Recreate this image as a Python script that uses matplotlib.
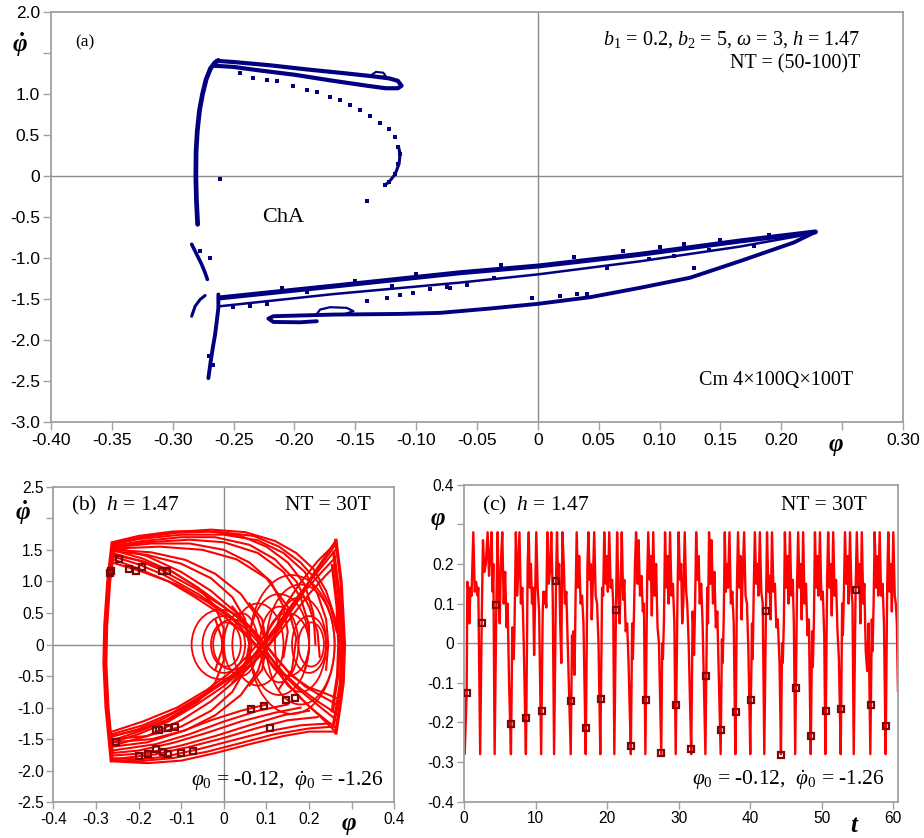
import matplotlib
matplotlib.use('Agg')
import matplotlib.pyplot as plt
from matplotlib.patches import Ellipse

plt.rcParams['font.family'] = 'Liberation Sans'
plt.rcParams['mathtext.fontset'] = 'custom'
plt.rcParams['mathtext.rm'] = 'Liberation Serif'
plt.rcParams['mathtext.it'] = 'Liberation Serif:italic'
plt.rcParams['mathtext.bf'] = 'Liberation Serif:bold:italic'

# ---------------- panel (a): Poincare section, traced strands ----------------
a_left_phi = [-0.2795, -0.2805, -0.281, -0.2808, -0.2798, -0.278, -0.2755, -0.2725, -0.269, -0.2655, -0.2625]
a_left_dphi = [-0.59, -0.3, 0.0, 0.3, 0.55, 0.8, 1.0, 1.18, 1.31, 1.38, 1.41]

a_top_phi = [-0.2638, -0.25, -0.22, -0.19, -0.16, -0.135, -0.122, -0.115, -0.112, -0.115, -0.125,
             -0.14, -0.17, -0.2, -0.23, -0.25, -0.266]
a_top_dphi = [1.404, 1.39, 1.35, 1.30, 1.255, 1.215, 1.19, 1.16, 1.10, 1.07, 1.07,
              1.10, 1.165, 1.235, 1.29, 1.33, 1.345]

a_hook_phi = [-0.138, -0.133, -0.127, -0.125, -0.13]
a_hook_dphi = [1.22, 1.27, 1.26, 1.22, 1.20]

a_dots_phi = [-0.2447, -0.2337, -0.2227, -0.2145, -0.2008, -0.1899, -0.1816, -0.1707, -0.1625,
              -0.1542, -0.146, -0.1378, -0.1296, -0.1227, -0.1173, -0.1145, -0.1132, -0.1145,
              -0.1173, -0.1227, -0.1255, -0.1405, -0.261]
a_dots_dphi = [1.257, 1.2, 1.167, 1.155, 1.094, 1.053, 1.02, 0.963, 0.922,
               0.861, 0.8, 0.727, 0.645, 0.576, 0.473, 0.351, 0.269, 0.147,
               0.024, -0.078, -0.106, -0.31, -0.04]

a_seg_phi = [-0.1145, -0.1132, -0.114, -0.1173, -0.1227, -0.1255]
a_seg_dphi = [0.36, 0.27, 0.15, 0.02, -0.08, -0.106]

a_p1_phi = [-0.2844, -0.2803, -0.2762, -0.2734, -0.2715]
a_p1_dphi = [-0.833, -0.955, -1.078, -1.18, -1.261]
a_p2_phi = [-0.2844, -0.2816, -0.2775, -0.2734]
a_p2_dphi = [-1.71, -1.588, -1.506, -1.457]
a_p3_phi = [-0.2625, -0.2625, -0.2638, -0.2652, -0.2671, -0.2688, -0.2707]
a_p3_dphi = [-1.445, -1.608, -1.771, -1.935, -2.098, -2.261, -2.465]

a_up_phi = [-0.261, -0.168, -0.064, 0.0, 0.0841, 0.1663, 0.228]
a_up_dphi = [-1.486, -1.343, -1.18, -1.098, -0.955, -0.792, -0.682]
a_mid_phi = [-0.261, -0.168, -0.064, 0.0, 0.0841, 0.1663, 0.215, 0.228]
a_mid_dphi = [-1.588, -1.44, -1.30, -1.2, -1.04, -0.86, -0.73, -0.682]
a_low_phi = [0.228, 0.2101, 0.1663, 0.1252, 0.0841, 0.043, 0.0, -0.0392, -0.0803, -0.1132, -0.168,
             -0.2173, -0.2214, -0.2173, -0.1953, -0.1816]
a_low_dphi = [-0.682, -0.812, -1.037, -1.24, -1.363, -1.478, -1.559, -1.616, -1.669, -1.682, -1.69,
              -1.71, -1.739, -1.78, -1.784, -1.771]
a_bump_phi = [-0.182, -0.1789, -0.1707, -0.157, -0.1515, -0.16]
a_bump_dphi = [-1.69, -1.629, -1.60, -1.608, -1.649, -1.69]

a_scat_phi = [-0.072, -0.0584, -0.0049, 0.0184, 0.032, 0.0403, 0.128, 0.091, 0.1115, 0.1773,
              -0.1405, -0.124, -0.1132, -0.1022, -0.0885, -0.0748, -0.2501, -0.2364, -0.2227,
              -0.0358, 0.0564, 0.1403, -0.2693, -0.2775, -0.2665, -0.2705,
              -0.21, -0.15, -0.1, -0.03, 0.03, 0.07, 0.12, 0.15, 0.19, -0.19, -0.12, 0.1]
a_scat_dphi = [-1.363, -1.33, -1.486, -1.465, -1.445, -1.437, -1.118, -1.016, -0.976, -0.853,
               -1.527, -1.486, -1.453, -1.424, -1.384, -1.355, -1.6, -1.588, -1.567,
               -1.24, -1.12, -0.9, -1.0, -0.92, -2.3, -2.2,
               -1.36, -1.28, -1.2, -1.085, -0.99, -0.92, -0.83, -0.78, -0.72, -1.42, -1.34, -0.87]

# ---------------- panel (b): phase trajectory, traced curves ----------------
b_walls = [
    ([-0.262, -0.272, -0.279, -0.281, -0.276, -0.264], [1.60, 1.0, 0.3, -0.3, -1.0, -1.84]),
    ([-0.258, -0.268, -0.275, -0.277, -0.272, -0.262], [1.50, 1.0, 0.3, -0.3, -1.0, -1.70]),
    ([-0.26, -0.27, -0.277, -0.279, -0.274, -0.263], [1.56, 1.0, 0.3, -0.3, -1.0, -1.78]),
    ([0.263, 0.275, 0.283, 0.28, 0.272, 0.263], [1.65, 1.0, 0.0, -0.6, -1.0, -1.40]),
    ([0.258, 0.27, 0.277, 0.274, 0.266, 0.258], [1.45, 0.8, 0.0, -0.6, -0.95, -1.25]),
    ([0.255, 0.266, 0.27, 0.267, 0.26, 0.255], [1.25, 0.6, 0.0, -0.5, -0.8, -1.05]),
]
b_top_arcs = [
    ([-0.262, -0.2, -0.12, -0.03, 0.05, 0.12, 0.17, 0.21, 0.24, 0.262, 0.272],
     [1.60, 1.70, 1.78, 1.82, 1.78, 1.64, 1.45, 1.2, 0.85, 0.4, 0.0]),
    ([-0.262, -0.2, -0.1, 0.0, 0.08, 0.14, 0.19, 0.22, 0.24, 0.245, 0.24],
     [1.58, 1.67, 1.74, 1.74, 1.65, 1.45, 1.15, 0.8, 0.4, 0.0, -0.4]),
    ([-0.26, -0.18, -0.08, 0.0, 0.08, 0.14, 0.18, 0.2, 0.2, 0.19],
     [1.55, 1.62, 1.66, 1.62, 1.45, 1.15, 0.75, 0.3, -0.1, -0.4]),
    ([-0.26, -0.15, -0.05, 0.03, 0.1, 0.15, 0.17, 0.16, 0.13],
     [1.52, 1.55, 1.5, 1.35, 1.05, 0.6, 0.1, -0.4, -0.7]),
    ([-0.262, -0.19, -0.1, -0.02, 0.06, 0.12, 0.17, 0.2, 0.22, 0.225],
     [1.56, 1.64, 1.70, 1.70, 1.58, 1.35, 1.0, 0.6, 0.2, -0.2]),
    ([-0.262, -0.2, -0.12, -0.04, 0.04, 0.1, 0.15, 0.19, 0.21, 0.215],
     [1.62, 1.72, 1.79, 1.80, 1.72, 1.55, 1.3, 0.95, 0.5, 0.0]),
    ([-0.26, -0.17, -0.08, 0.0, 0.06, 0.11, 0.14, 0.15, 0.14],
     [1.54, 1.6, 1.6, 1.5, 1.3, 1.0, 0.6, 0.2, -0.2]),
    ([-0.262, -0.2, -0.11, -0.02, 0.07, 0.13, 0.18, 0.22, 0.25, 0.265],
     [1.59, 1.69, 1.77, 1.79, 1.72, 1.55, 1.3, 1.0, 0.6, 0.2]),
]
b_eye_arcs = [
    ([-0.26, -0.18, -0.1, -0.03, 0.02, 0.05, 0.06, 0.05, 0.02],
     [1.48, 1.42, 1.28, 1.05, 0.75, 0.4, 0.0, -0.35, -0.6]),
    ([-0.26, -0.17, -0.09, -0.02, 0.04, 0.08, 0.1, 0.09, 0.06],
     [1.5, 1.46, 1.34, 1.12, 0.8, 0.42, 0.0, -0.4, -0.65]),
    ([-0.262, -0.19, -0.12, -0.06, -0.02, 0.0, -0.005, -0.02],
     [1.42, 1.32, 1.15, 0.9, 0.6, 0.25, -0.1, -0.4]),
    ([-0.262, -0.18, -0.1, -0.03, 0.02, 0.05, 0.06, 0.05, 0.02],
     [-1.5, -1.45, -1.3, -1.05, -0.75, -0.4, 0.0, 0.35, 0.6]),
    ([-0.262, -0.17, -0.09, -0.02, 0.04, 0.08, 0.1, 0.09, 0.06],
     [-1.55, -1.5, -1.36, -1.12, -0.8, -0.42, 0.0, 0.4, 0.65]),
    ([-0.262, -0.19, -0.12, -0.06, -0.02, 0.0, -0.005, -0.02],
     [-1.45, -1.34, -1.16, -0.9, -0.6, -0.25, 0.1, 0.4]),
]
b_down_band = [
    ([-0.262, -0.2, -0.146, -0.068, 0.003, 0.05, 0.09, 0.128, 0.17, 0.206, 0.263],
     [1.45, 1.33, 1.18, 0.89, 0.58, 0.35, 0.0, -0.4, -0.68, -0.88, -1.19]),
    ([-0.262, -0.2, -0.14, -0.06, 0.01, 0.06, 0.1, 0.14, 0.18, 0.22, 0.265],
     [1.40, 1.27, 1.1, 0.8, 0.48, 0.2, -0.12, -0.45, -0.7, -0.9, -1.1]),
    ([-0.262, -0.19, -0.12, -0.05, 0.02, 0.07, 0.11, 0.15, 0.19, 0.23, 0.265],
     [1.5, 1.36, 1.15, 0.85, 0.5, 0.22, -0.1, -0.42, -0.66, -0.82, -0.95]),
    ([-0.26, -0.2, -0.13, -0.07, 0.0, 0.04, 0.08, 0.12, 0.16, 0.2, 0.262],
     [1.35, 1.2, 1.0, 0.76, 0.45, 0.22, -0.05, -0.38, -0.7, -0.98, -1.32]),
    ([-0.26, -0.18, -0.1, -0.03, 0.03, 0.08, 0.12, 0.16, 0.2, 0.24, 0.265],
     [1.55, 1.4, 1.15, 0.85, 0.5, 0.15, -0.2, -0.5, -0.68, -0.78, -0.85]),
    ([-0.262, -0.19, -0.11, -0.04, 0.02, 0.06, 0.1, 0.14, 0.18, 0.22, 0.262],
     [1.30, 1.15, 0.95, 0.68, 0.4, 0.12, -0.2, -0.55, -0.85, -1.1, -1.38]),
]
b_up_band = [
    ([-0.262, -0.2, -0.146, -0.068, 0.003, 0.05, 0.1, 0.144, 0.18, 0.206, 0.263],
     [-1.46, -1.34, -1.19, -0.9, -0.59, -0.4, -0.05, 0.39, 0.75, 1.08, 1.65]),
    ([-0.262, -0.2, -0.14, -0.06, 0.01, 0.06, 0.1, 0.14, 0.18, 0.22, 0.262],
     [-1.52, -1.38, -1.22, -0.88, -0.55, -0.25, 0.08, 0.45, 0.82, 1.15, 1.5]),
    ([-0.262, -0.19, -0.12, -0.05, 0.02, 0.07, 0.11, 0.15, 0.19, 0.23, 0.262],
     [-1.42, -1.28, -1.08, -0.8, -0.48, -0.18, 0.15, 0.5, 0.85, 1.15, 1.38]),
    ([-0.26, -0.2, -0.13, -0.07, 0.0, 0.04, 0.08, 0.12, 0.16, 0.2, 0.262],
     [-1.55, -1.42, -1.22, -0.98, -0.66, -0.42, -0.14, 0.2, 0.6, 1.0, 1.58]),
    ([-0.26, -0.18, -0.1, -0.03, 0.03, 0.08, 0.12, 0.16, 0.2, 0.24, 0.262],
     [-1.6, -1.45, -1.2, -0.9, -0.56, -0.22, 0.1, 0.45, 0.8, 1.1, 1.25]),
    ([-0.262, -0.19, -0.11, -0.04, 0.02, 0.06, 0.1, 0.14, 0.18, 0.22, 0.262],
     [-1.38, -1.22, -1.0, -0.72, -0.42, -0.15, 0.18, 0.58, 0.98, 1.32, 1.6]),
]
b_bottom_arcs = [
    ([0.264, 0.2, 0.14, 0.06, -0.02, -0.1, -0.18, -0.264],
     [-1.38, -1.38, -1.45, -1.58, -1.72, -1.84, -1.88, -1.85]),
    ([0.25, 0.18, 0.1, 0.02, -0.06, -0.14, -0.2, -0.264],
     [-1.25, -1.28, -1.38, -1.52, -1.66, -1.78, -1.82, -1.8]),
    ([0.2, 0.14, 0.06, -0.02, -0.1, -0.18, -0.262],
     [-1.05, -1.12, -1.28, -1.45, -1.6, -1.72, -1.76]),
    ([0.15, 0.08, 0.0, -0.08, -0.16, -0.262],
     [-0.95, -1.05, -1.22, -1.42, -1.58, -1.68]),
    ([0.22, 0.15, 0.08, 0.0, -0.08, -0.16, -0.262],
     [-1.15, -1.2, -1.32, -1.48, -1.62, -1.74, -1.82]),
    ([0.26, 0.2, 0.12, 0.04, -0.04, -0.12, -0.2, -0.264],
     [-1.3, -1.33, -1.42, -1.56, -1.7, -1.8, -1.85, -1.83]),
    ([0.18, 0.12, 0.04, -0.04, -0.12, -0.2, -0.262],
     [-1.0, -1.08, -1.22, -1.4, -1.56, -1.68, -1.72]),
    ([0.1, 0.04, -0.03, -0.1, -0.18, -0.262],
     [-0.95, -1.05, -1.2, -1.38, -1.55, -1.62]),
]
# small oscillation loops around the centre: centre phi, full width, full height
loop_cx = [-0.008, 0.0, 0.005, 0.04, 0.18, 0.18, 0.2, 0.205, 0.13, 0.13, 0.08, 0.02, 0.16, 0.15]
loop_w = [0.135, 0.1, 0.07, 0.08, 0.16, 0.12, 0.08, 0.06, 0.14, 0.09, 0.12, 0.09, 0.2, 0.1]
loop_h = [1.1, 0.9, 0.7, 1.0, 1.9, 1.5, 0.9, 0.7, 1.6, 1.2, 1.3, 0.8, 2.2, 1.0]

b_pts_phi = [-0.265, -0.268, -0.246, -0.222, -0.206, -0.192, -0.145, -0.133, -0.253, -0.199,
             -0.178, -0.160, -0.160, -0.152, -0.142, -0.131, -0.130, -0.115, -0.101, -0.072,
             0.063, 0.094, 0.108, 0.145, 0.167]
b_pts_dphi = [1.16, 1.14, 1.35, 1.20, 1.17, 1.23, 1.17, 1.17, -1.54, -1.76,
              -1.73, -1.65, -1.36, -1.36, -1.70, -1.73, -1.32, -1.30, -1.72, -1.68,
              -1.02, -0.98, -1.32, -0.88, -0.85]

# ---------------- panel (c): time series vertices ----------------
c_t = [0.0, 0.1, 0.37, 0.47, 0.6, 0.75, 0.9, 1.05, 1.3, 1.5, 1.7, 1.9, 2.0,
       2.26, 2.47, 2.65, 2.85, 3.05, 3.3, 3.5, 3.7, 3.85, 4.0, 4.1,
       4.28, 4.52, 4.7, 4.85, 5.0, 5.15, 5.35, 5.55, 5.75, 5.95, 6.1, 6.3,
       6.56, 6.61, 6.75, 6.85, 6.95, 7.05, 7.25, 7.45, 7.6, 7.75, 7.95, 8.15, 8.35,
       8.65, 8.71, 8.9, 9.05, 9.2, 9.35, 9.5, 9.65, 9.8, 9.95, 10.1, 10.3, 10.5,
       10.78, 10.85, 11.0, 11.1, 11.2, 11.35, 11.5, 11.65, 11.85, 12.0, 12.2, 12.4,
       12.59, 12.86, 13.0, 13.15, 13.3, 13.45, 13.6, 13.75, 13.95, 14.1, 14.3, 14.5,
       14.92, 15.0, 15.1, 15.2, 15.3, 15.45, 15.6, 15.75, 15.95, 16.1, 16.3, 16.5, 16.7,
       17.01, 17.05, 17.25, 17.4, 17.55, 17.7, 17.85, 18.0, 18.2, 18.4, 18.6, 18.8,
       19.05, 19.14, 19.3, 19.45, 19.6, 19.8, 19.95, 20.1, 20.3, 20.5, 20.7, 20.85,
       21.01, 21.24, 21.4, 21.6, 21.75, 21.9, 22.05, 22.25, 22.4, 22.6, 22.8, 23.0,
       23.32, 23.33, 23.5, 23.6, 23.75, 23.9, 24.05, 24.25, 24.4, 24.6, 24.8, 25.0, 25.15,
       25.35, 25.43, 25.6, 25.75, 25.95, 26.1, 26.25, 26.45, 26.65, 26.85, 27.05, 27.25,
       27.57, 27.7, 27.8, 27.95, 28.1, 28.3, 28.45, 28.6, 28.8, 29.0, 29.2, 29.4,
       29.59, 29.67, 29.85, 30.0, 30.2, 30.35, 30.5, 30.65, 30.85, 31.05, 31.2, 31.4,
       31.76, 31.77, 31.95, 32.05, 32.15, 32.3, 32.45, 32.65, 32.8, 32.95, 33.15, 33.35,
       33.74, 33.86, 34.0, 34.1, 34.25, 34.45, 34.6, 34.8, 35.0, 35.2, 35.4,
       35.87, 35.91, 36.05, 36.15, 36.3, 36.45, 36.6, 36.75, 36.9, 37.1, 37.3, 37.5, 37.7,
       37.93, 38.0, 38.15, 38.3, 38.5, 38.65, 38.8, 38.95, 39.15, 39.35, 39.55, 39.75,
       40.01, 40.1, 40.25, 40.35, 40.5, 40.65, 40.85, 41.0, 41.15, 41.35, 41.55, 41.75,
       41.97, 42.2, 42.35, 42.55, 42.7, 42.85, 43.05, 43.25, 43.45, 43.65, 43.85, 44.1,
       44.3, 44.45, 44.55, 44.7, 44.85, 45.05, 45.2, 45.35, 45.55, 45.75, 45.95, 46.1,
       46.29, 46.39, 46.55, 46.7, 46.9, 47.05, 47.2, 47.4, 47.6, 47.8, 48.0, 48.2,
       48.46, 48.49, 48.65, 48.75, 48.9, 49.05, 49.25, 49.4, 49.55, 49.75, 49.95, 50.15, 50.35,
       50.51, 50.58, 50.75, 50.9, 51.1, 51.25, 51.4, 51.6, 51.8, 52.0, 52.2, 52.4,
       52.65, 52.72, 52.85, 52.95, 53.1, 53.25, 53.45, 53.6, 53.75, 53.95, 54.15, 54.3,
       54.47, 54.73, 54.9, 55.1, 55.25, 55.4, 55.6, 55.8, 55.95, 56.15, 56.35, 56.55,
       56.79, 56.87, 57.0, 57.1, 57.25, 57.4, 57.6, 57.75, 57.9, 58.1, 58.3, 58.5, 58.7,
       58.93, 58.97, 59.15, 59.3, 59.5, 59.65, 59.8, 60.0, 60.2, 60.35, 60.5, 60.65]
c_phi = [-0.12, -0.28, -0.126, 0.155, 0.14, 0.05, 0.14, 0.12, 0.28, 0.13, 0.155, 0.12, 0.14,
         -0.28, 0.05, 0.26, 0.18, 0.2, 0.28, 0.17, 0.23, 0.28, 0.13, 0.2,
         -0.28, 0.097, 0.28, 0.12, 0.05, 0.2, 0.28, 0.1, 0.18, 0.04, 0.1, -0.1,
         -0.28, -0.205, 0.04, 0.03, -0.04, 0.03, 0.28, 0.12, 0.2, 0.28, 0.1, 0.14, 0.0,
         -0.28, -0.19, 0.2, 0.28, 0.14, 0.2, 0.1, 0.14, -0.03, 0.12, 0.28, 0.14, 0.08,
         -0.28, -0.171, 0.08, 0.13, 0.1, 0.13, 0.09, 0.28, 0.15, 0.18, 0.28, 0.12,
         -0.28, 0.156, 0.28, 0.15, 0.2, 0.05, -0.05, 0.28, 0.2, 0.1, 0.13, 0.0,
         -0.28, -0.146, 0.02, -0.06, 0.03, -0.08, 0.12, 0.28, 0.14, 0.22, 0.1, 0.12, 0.05,
         -0.28, -0.214, 0.2, 0.28, 0.16, 0.2, 0.06, 0.15, 0.28, 0.12, 0.1, 0.0,
         -0.28, -0.14, 0.14, 0.12, 0.28, 0.15, 0.22, 0.13, 0.28, 0.14, 0.16, 0.1,
         -0.28, 0.083, 0.28, 0.12, 0.05, 0.15, 0.28, 0.11, 0.16, 0.03, 0.05, -0.05,
         -0.28, -0.259, 0.05, -0.04, 0.07, 0.2, 0.28, 0.15, 0.26, 0.12, 0.17, 0.08, 0.1,
         -0.28, -0.144, 0.16, 0.28, 0.16, 0.22, 0.07, 0.28, 0.12, 0.2, 0.04, 0.0,
         -0.28, 0.0, -0.04, 0.06, 0.28, 0.14, 0.22, 0.1, 0.28, 0.12, 0.15, 0.05,
         -0.28, -0.155, 0.14, 0.28, 0.16, 0.2, 0.05, 0.1, 0.28, 0.13, 0.1, 0.0,
         -0.28, -0.267, 0.08, 0.04, -0.03, 0.1, 0.28, 0.16, 0.22, 0.1, 0.15, 0.05,
         -0.28, -0.084, 0.14, 0.05, 0.28, 0.15, 0.26, 0.1, 0.18, 0.04, 0.08,
         -0.28, -0.219, 0.01, -0.05, 0.06, 0.28, 0.13, 0.2, 0.14, 0.28, 0.1, 0.13, 0.05,
         -0.28, -0.174, 0.15, 0.28, 0.14, 0.22, 0.06, 0.17, 0.28, 0.12, 0.1, -0.02,
         -0.28, -0.143, 0.05, -0.04, 0.14, 0.28, 0.15, 0.2, 0.12, 0.28, 0.13, 0.1,
         -0.28, 0.081, 0.28, 0.13, 0.17, 0.06, 0.28, 0.13, 0.15, 0.04, 0.06, -0.05,
         -0.28, 0.0, -0.05, 0.05, 0.28, 0.14, 0.22, 0.1, 0.28, 0.12, 0.16, 0.05,
         -0.28, -0.113, 0.15, 0.28, 0.14, 0.2, 0.06, 0.28, 0.1, 0.15, 0.02, 0.06,
         -0.28, -0.235, 0.03, -0.06, 0.05, 0.28, 0.14, 0.22, 0.12, 0.28, 0.11, 0.13, 0.02,
         -0.28, -0.172, 0.16, 0.28, 0.14, 0.2, 0.07, 0.28, 0.12, 0.16, 0.03, -0.04,
         -0.28, -0.166, 0.1, 0.02, 0.13, 0.28, 0.15, 0.22, 0.1, 0.28, 0.13, 0.1,
         -0.28, 0.134, 0.28, 0.14, 0.2, 0.05, 0.28, 0.1, 0.15, -0.02, -0.07, 0.05,
         -0.28, -0.157, 0.06, -0.02, 0.1, 0.28, 0.14, 0.22, 0.12, 0.28, 0.12, 0.15, 0.05,
         -0.28, -0.21, 0.15, 0.28, 0.13, 0.2, 0.08, 0.28, 0.12, 0.1, 0.05, -0.12]

c_pts_t = [0.37, 2.47, 4.52, 6.61, 8.71, 10.85, 12.86, 15.0, 17.05, 19.14, 21.24, 23.33, 25.43,
           27.57, 29.67, 31.77, 33.86, 35.91, 38.0, 40.1, 42.2, 44.3, 46.39, 48.49, 50.58,
           52.72, 54.73, 56.87, 58.97]
c_pts_phi = [-0.126, 0.050, 0.097, -0.205, -0.190, -0.171, 0.156, -0.146, -0.214, -0.140, 0.083,
             -0.259, -0.144, -0.278, -0.155, -0.267, -0.084, -0.219, -0.174, -0.143, 0.081,
             -0.281, -0.113, -0.235, -0.172, -0.166, 0.134, -0.157, -0.210]

# ---------------- style ----------------
W, H = 924, 838
NAVY = '#000080'
RED = '#ff0000'
MARK = '#7a0a0a'
FRAME = '#a0a0a0'
SERIF = 'Liberation Serif'
PHI_DOT = r'$\mathbf{\dot{\varphi}}$'
PHI = r'$\mathbf{\varphi}$'
PARAM0 = r'$\varphi_0$ = -0.12,  $\dot{\varphi}_0$ = -1.26'

fig = plt.figure(figsize=(W / 100, H / 100), dpi=100)


def px_axes(l, t, r, b):
    return fig.add_axes([l / W, 1 - b / H, (r - l) / W, (b - t) / H])


def ftext(x, y, s, **kw):
    fig.text(x / W, 1 - y / H, s, **kw)


def style(ax, fs, tl):
    for sp in ax.spines.values():
        sp.set_color(FRAME)
        sp.set_linewidth(1.3)
    ax.tick_params(direction='out', length=tl, width=1, color=FRAME,
                   labelsize=fs, pad=2, top=False, right=False)


# panel (a)
ax = px_axes(51, 12, 903, 422)
ax.axhline(0, color='#8c8c8c', lw=1, zorder=1)
ax.axvline(0, color='#8c8c8c', lw=1, zorder=1)
kw = dict(color=NAVY, solid_capstyle='round', solid_joinstyle='round', zorder=3)
ax.plot(a_left_phi, a_left_dphi, lw=3.4, **kw)
ax.plot(a_top_phi, a_top_dphi, lw=3.0, **kw)
ax.plot(a_hook_phi, a_hook_dphi, lw=1.5, **kw)
ax.plot(a_seg_phi, a_seg_dphi, lw=2.2, **kw)
ax.plot(a_p1_phi, a_p1_dphi, lw=2.6, **kw)
ax.plot(a_p2_phi, a_p2_dphi, lw=2.2, **kw)
ax.plot(a_p3_phi, a_p3_dphi, lw=2.8, **kw)
ax.plot(a_up_phi, a_up_dphi, lw=3.6, **kw)
ax.plot(a_mid_phi, a_mid_dphi, lw=1.8, **kw)
ax.plot(a_low_phi, a_low_dphi, lw=2.8, **kw)
ax.plot(a_bump_phi, a_bump_dphi, lw=1.6, **kw)
ax.plot(a_dots_phi, a_dots_dphi, 's', ms=2.7, color=NAVY, mew=0, zorder=3)
ax.plot(a_scat_phi, a_scat_dphi, 's', ms=2.7, color=NAVY, mew=0, zorder=3)
ax.set_xlim(-0.40, 0.30)
ax.set_ylim(-3.0, 2.0)
xt = [-0.40, -0.35, -0.30, -0.25, -0.20, -0.15, -0.10, -0.05, 0, 0.05, 0.10, 0.15, 0.20, 0.25, 0.30]
ax.set_xticks(xt)
ax.set_xticklabels(['-0.40', '-0.35', '-0.30', '-0.25', '-0.20', '-0.15', '-0.10', '-0.05', '0',
                    '0.05', '0.10', '0.15', '0.20', '', '0.30'])
yt = [2.0, 1.5, 1.0, 0.5, 0, -0.5, -1.0, -1.5, -2.0, -2.5, -3.0]
ax.set_yticks(yt)
ax.set_yticklabels(['2.0', '', '1.0', '0.5', '0', '-0.5', '-1.0', '-1.5', '-2.0', '-2.5', '-3.0'])
style(ax, 12.5, 6)
ftext(20, 45, PHI_DOT, fontsize=18, ha='center', va='center')
ftext(836, 446, PHI, fontsize=18, ha='center', va='center')
ftext(75, 42, '(a)', family=SERIF, fontsize=12.5, ha='left', va='center')
ftext(860, 40, r'$b_1$ = 0.2, $b_2$ = 5, $\omega$ = 3, $h$ = 1.47', family=SERIF,
      fontsize=14.5, ha='right', va='center')
ftext(860, 64, 'NT = (50-100)T', family=SERIF, fontsize=14.5, ha='right', va='center')
ftext(283, 217, 'ChA', family=SERIF, fontsize=16, ha='center', va='center')
ftext(853, 380, 'Cm 4\u00d7100Q\u00d7100T', family=SERIF, fontsize=14.5, ha='right', va='center')

# panel (b)
ax = px_axes(53.3, 486.7, 394.3, 802.3)
ax.axhline(0, color='#8c8c8c', lw=1, zorder=1)
ax.axvline(0, color='#8c8c8c', lw=1, zorder=1)
for group, lw in [(b_walls, 2.4), (b_top_arcs, 1.5), (b_eye_arcs, 1.5), (b_down_band, 1.5),
                  (b_up_band, 1.5), (b_bottom_arcs, 1.5)]:
    for xs, ys in group:
        ax.plot(xs, ys, color=RED, lw=lw, solid_joinstyle='round', zorder=2)
for cx, w, h in zip(loop_cx, loop_w, loop_h):
    ax.add_patch(Ellipse((cx, 0), w, h, fill=False, ec=RED, lw=1.3, zorder=2))
ax.plot(b_pts_phi, b_pts_dphi, 's', ms=5, mfc='none', mec=MARK, mew=1.6, zorder=4)
ax.set_xlim(-0.4, 0.4)
ax.set_ylim(-2.5, 2.5)
ax.set_xticks([-0.4, -0.3, -0.2, -0.1, 0, 0.1, 0.2, 0.3, 0.4])
ax.set_xticklabels(['-0.4', '-0.3', '-0.2', '-0.1', '0', '0.1', '0.2', '', '0.4'])
ax.set_yticks([2.5, 2.0, 1.5, 1.0, 0.5, 0, -0.5, -1.0, -1.5, -2.0, -2.5])
ax.set_yticklabels(['2.5', '', '1.5', '1.0', '0.5', '0', '-0.5', '-1.0', '-1.5', '-2.0', '-2.5'])
style(ax, 11.2, 5)
ftext(23, 513, PHI_DOT, fontsize=18, ha='center', va='center')
ftext(349, 825, PHI, fontsize=18, ha='center', va='center')
ftext(71, 505, r'(b)  $h$ = 1.47', family=SERIF, fontsize=15.5, ha='left', va='center')
ftext(371, 505, 'NT = 30T', family=SERIF, fontsize=15.5, ha='right', va='center')
ftext(384, 781, PARAM0, family=SERIF, fontsize=15.5, ha='right', va='center')

# panel (c)
ax = px_axes(464, 484.7, 898.3, 801.7)
ax.axhline(0, color='#8c8c8c', lw=1, zorder=1)
ax.plot(c_t, c_phi, color=RED, lw=1.7, solid_joinstyle='round', zorder=2)
ax.plot(c_pts_t, c_pts_phi, 's', ms=5, mfc='none', mec=MARK, mew=1.6, zorder=4)
ax.set_xlim(0, 60.7)
ax.set_ylim(-0.4, 0.4)
ax.set_xticks([0, 10, 20, 30, 40, 50, 60])
ax.set_yticks([0.4, 0.3, 0.2, 0.1, 0, -0.1, -0.2, -0.3, -0.4])
ax.set_yticklabels(['0.4', '', '0.2', '0.1', '0', '-0.1', '-0.2', '-0.3', '-0.4'])
style(ax, 11.2, 5)
ftext(438, 520, PHI, fontsize=18, ha='center', va='center')
ftext(855, 825, r'$\mathbf{t}$', fontsize=18, ha='center', va='center')
ftext(482, 505, r'(c)  $h$ = 1.47', family=SERIF, fontsize=15.5, ha='left', va='center')
ftext(867, 505, 'NT = 30T', family=SERIF, fontsize=15.5, ha='right', va='center')
ftext(885, 780, PARAM0, family=SERIF, fontsize=15.5, ha='right', va='center')

fig.savefig('out.png', dpi=100)
